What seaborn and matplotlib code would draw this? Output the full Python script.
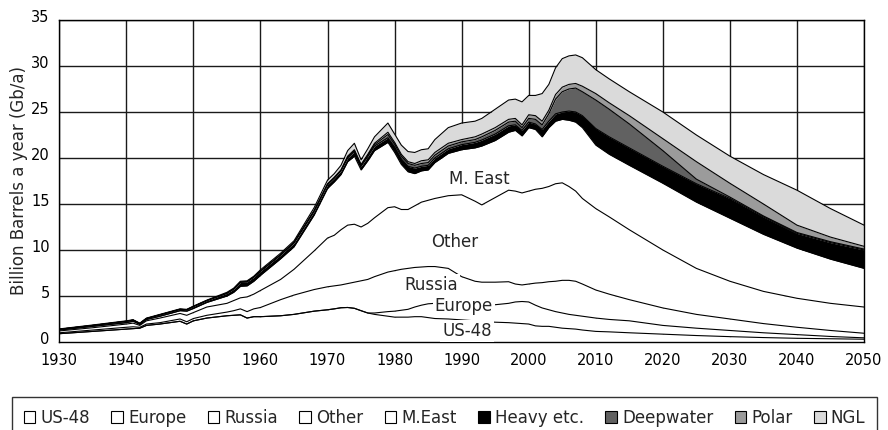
import numpy as np
import pandas as pd
import matplotlib
matplotlib.use("Agg")
import matplotlib.pyplot as plt
import matplotlib.transforms as mtransforms
from matplotlib.patches import Patch
import seaborn as sns

# years (irregular spacing where the curves wiggle)
years = [1930, 1935, 1940, 1941, 1942, 1943, 1945, 1948, 1949, 1950, 1952, 1955,
         1956, 1957, 1958, 1959, 1960, 1963, 1965, 1968, 1970, 1971, 1972, 1973,
         1974, 1975, 1976, 1977, 1979, 1980, 1981, 1982, 1983, 1984, 1985, 1986,
         1988, 1990, 1992, 1993, 1995, 1997, 1998, 1999, 2000, 2001, 2002, 2003,
         2004, 2005, 2006, 2007, 2008, 2010, 2012, 2015, 2020, 2025, 2030, 2035,
         2040, 2045, 2050]

# production per layer, Gb/a
us48 = [0.9, 1.15, 1.4, 1.45, 1.5, 1.8, 1.95, 2.25, 1.95, 2.3, 2.6, 2.85,
        2.9, 2.95, 2.6, 2.75, 2.75, 2.85, 3.0, 3.35, 3.5, 3.6, 3.72, 3.75,
        3.66, 3.4, 3.15, 3.0, 2.8, 2.7, 2.7, 2.7, 2.75, 2.75, 2.65, 2.55,
        2.5, 2.4, 2.3, 2.25, 2.15, 2.1, 2.05, 2.0, 1.95, 1.75, 1.7, 1.7,
        1.6, 1.5, 1.45, 1.4, 1.3, 1.15, 1.1, 1.0, 0.85, 0.7, 0.58, 0.48,
        0.4, 0.35, 0.3]
europe = [0, 0, 0, 0, 0, 0, 0, 0, 0, 0, 0, 0,
          0, 0, 0, 0, 0, 0, 0, 0, 0, 0, 0, 0,
          0, 0, 0, 0.15, 0.5, 0.65, 0.75, 0.85, 1.05, 1.25, 1.5, 1.65,
          1.7, 1.8, 1.8, 1.85, 1.9, 2.1, 2.3, 2.4, 2.4, 2.25, 2.0, 1.8,
          1.7, 1.65, 1.55, 1.5, 1.5, 1.45, 1.35, 1.3, 0.95, 0.8, 0.67, 0.52,
          0.4, 0.25, 0.15]
russia = [0.1, 0.15, 0.2, 0.2, 0.1, 0.15, 0.15, 0.25, 0.25, 0.25, 0.3, 0.4,
          0.5, 0.65, 0.7, 0.85, 1.0, 1.75, 2.1, 2.35, 2.5, 2.5, 2.48, 2.6,
          2.84, 3.25, 3.65, 3.95, 4.3, 4.4, 4.45, 4.45, 4.3, 4.15, 4.05, 4.0,
          3.8, 2.9, 2.5, 2.4, 2.45, 2.35, 1.95, 1.8, 1.95, 2.4, 2.75, 3.05,
          3.3, 3.55, 3.7, 3.7, 3.5, 3.05, 2.75, 2.3, 1.9, 1.5, 1.25, 1.0,
          0.8, 0.65, 0.5]
other = [0.2, 0.25, 0.35, 0.4, 0.2, 0.35, 0.5, 0.6, 0.7, 0.65, 0.9, 0.95,
         1.1, 1.2, 1.6, 1.6, 1.85, 2.2, 2.8, 4.2, 5.3, 5.5, 6.0, 6.35,
         6.3, 5.85, 6.1, 6.4, 7.0, 6.95, 6.5, 6.4, 6.7, 7.05, 7.2, 7.4,
         7.9, 8.9, 8.7, 8.4, 9.2, 9.95, 10.1, 10.0, 10.1, 10.2, 10.25, 10.35,
         10.6, 10.6, 10.2, 9.8, 9.3, 8.85, 8.4, 7.6, 6.3, 5.0, 4.1, 3.5,
         3.15, 2.95, 2.85]
m_east = [0.1, 0.15, 0.15, 0.2, 0.1, 0.15, 0.2, 0.3, 0.45, 0.45, 0.5, 0.8,
          0.9, 1.25, 1.2, 1.4, 1.65, 2.25, 2.45, 3.9, 5.4, 5.8, 6.0, 6.9,
          7.4, 6.2, 6.8, 7.3, 7.1, 5.9, 4.9, 4.1, 3.5, 3.4, 3.3, 3.9,
          4.6, 4.9, 5.8, 6.4, 6.2, 6.3, 6.6, 6.2, 6.9, 6.5, 5.6, 6.4,
          6.8, 6.9, 7.2, 7.5, 7.7, 6.9, 6.8, 7.0, 7.25, 7.2, 6.85, 6.2,
          5.45, 4.8, 4.2]
heavy = [0.08, 0.1, 0.15, 0.13, 0.1, 0.1, 0.15, 0.15, 0.15, 0.2, 0.2, 0.3,
         0.35, 0.45, 0.45, 0.45, 0.45, 0.4, 0.4, 0.4, 0.4, 0.4, 0.4, 0.4,
         0.5, 0.4, 0.45, 0.5, 0.5, 0.6, 0.6, 0.6, 0.6, 0.5, 0.5, 0.5,
         0.5, 0.55, 0.6, 0.65, 0.7, 0.7, 0.6, 0.6, 0.6, 0.6, 0.8, 0.7,
         0.8, 0.8, 1.0, 1.1, 1.3, 1.8, 1.9, 1.9, 1.85, 2.0, 2.15, 1.9,
         1.6, 1.8, 2.0]
deepwater = [0, 0, 0, 0, 0, 0, 0, 0, 0, 0, 0, 0,
             0, 0, 0, 0, 0, 0, 0.05, 0.05, 0.05, 0.05, 0.05, 0.1,
             0.1, 0.1, 0.15, 0.15, 0.35, 0.3, 0.3, 0.3, 0.3, 0.3, 0.3, 0.3,
             0.3, 0.3, 0.3, 0.35, 0.4, 0.4, 0.4, 0.3, 0.4, 0.5, 0.5, 0.8,
             1.6, 2.2, 2.4, 2.6, 2.6, 3.1, 3.0, 2.6, 1.7, 0.5, 0.15, 0.1,
             0.1, 0.1, 0.1]
polar = [0, 0, 0, 0, 0, 0, 0, 0, 0, 0, 0, 0,
         0, 0, 0, 0, 0, 0.05, 0.05, 0.05, 0.05, 0.05, 0.05, 0.1,
         0.1, 0.1, 0.1, 0.15, 0.25, 0.2, 0.2, 0.2, 0.2, 0.3, 0.3, 0.3,
         0.3, 0.25, 0.3, 0.3, 0.3, 0.3, 0.3, 0.3, 0.4, 0.4, 0.4, 0.4,
         0.5, 0.5, 0.5, 0.5, 0.6, 0.7, 0.7, 0.9, 1.3, 1.9, 1.5, 1.3,
         0.8, 0.5, 0.3]
ngl = [0.04, 0.05, 0.05, 0.04, 0.05, 0.05, 0.05, 0.05, 0.05, 0.05, 0.05, 0.1,
       0.1, 0.1, 0.1, 0.1, 0.15, 0.15, 0.15, 0.3, 0.4, 0.4, 0.5, 0.6,
       0.7, 0.5, 0.6, 0.7, 1.0, 0.9, 1.0, 1.1, 1.2, 1.2, 1.2, 1.4,
       1.7, 1.8, 1.7, 1.7, 2.0, 2.1, 2.1, 2.5, 2.1, 2.2, 3.0, 2.8,
       2.9, 3.1, 3.1, 3.1, 3.1, 2.6, 2.6, 2.6, 2.9, 2.9, 2.95, 3.2,
       3.8, 3.1, 2.3]

layer_names = ["US-48", "Europe", "Russia", "Other", "M.East",
               "Heavy etc.", "Deepwater", "Polar", "NGL"]
layer_colors = ["white", "white", "white", "white", "white",
                "black", "#616161", "#9b9b9b", "#dadada"]
series = [us48, europe, russia, other, m_east, heavy, deepwater, polar, ngl]

sns.set_style("white")
plt.rcParams["font.family"] = ["DejaVu Sans"]

fig = plt.figure(figsize=(8.88, 4.30), dpi=100)
ax = fig.add_axes([0.0668, 0.2047, 0.9062, 0.7488])

ax.stackplot(years, *series, colors=layer_colors, linewidth=0, zorder=2)

# boundary lines of every layer
levels = np.cumsum(np.array(series), axis=0)
long = pd.DataFrame({
    "year": np.tile(years, len(layer_names)),
    "level": levels.ravel(),
    "layer": np.repeat(layer_names, len(years)),
})
sns.lineplot(data=long, x="year", y="level", units="layer", estimator=None,
             color="black", linewidth=0.8, ax=ax, zorder=3, legend=False)

ax.set_xlim(1930, 2050)
ax.set_ylim(0, 35)
ax.set_xticks(range(1930, 2051, 10))
ax.set_yticks(range(0, 36, 5))
ax.grid(True, color="#1a1a1a", linewidth=1.0)
ax.set_axisbelow(True)
for s in ax.spines.values():
    s.set_visible(True)
    s.set_color("black")
    s.set_linewidth(1.0)
ax.tick_params(axis="both", direction="out", length=5, width=1, color="black",
               labelsize=10.5, labelcolor="black", pad=2)
ax.tick_params(axis="x", pad=4, length=4)
ax.set_xlabel("")
ax.set_ylabel("Billion Barrels a year (Gb/a)", fontsize=12, labelpad=2)

# y tick labels sit a little above their gridline
shift = mtransforms.ScaledTranslation(0, 4 / 100, fig.dpi_scale_trans)
for lbl in ax.get_yticklabels():
    lbl.set_transform(lbl.get_transform() + shift)

box = dict(facecolor="white", edgecolor="none", pad=1.5)
ax.text(1992.7, 17.7, "M. East", fontsize=12, ha="center", va="center", zorder=5)
ax.text(1989.0, 10.9, "Other", fontsize=12, ha="center", va="center", zorder=5)
ax.text(1985.5, 6.2, "Russia", fontsize=12, ha="center", va="center", zorder=5, bbox=box)
ax.text(1990.3, 3.9, "Europe", fontsize=12, ha="center", va="center", zorder=5, bbox=box)
ax.text(1990.8, 1.2, "US-48", fontsize=12, ha="center", va="center", zorder=5, bbox=box)

handles = [Patch(facecolor=c, edgecolor="black", linewidth=0.8) for c in layer_colors]
leg = fig.legend(handles, layer_names, loc="upper left",
                 bbox_to_anchor=(0.0135, 0.0, 0.974, 1 - 397 / 430),
                 mode="expand", ncol=9, fontsize=12, frameon=True, fancybox=False,
                 handlelength=0.7, handleheight=0.7, handletextpad=0.3,
                 borderpad=0.7, columnspacing=0.8, borderaxespad=0)
leg.get_frame().set_edgecolor("black")
leg.get_frame().set_linewidth(1.0)

fig.savefig("out.png", dpi=100)
